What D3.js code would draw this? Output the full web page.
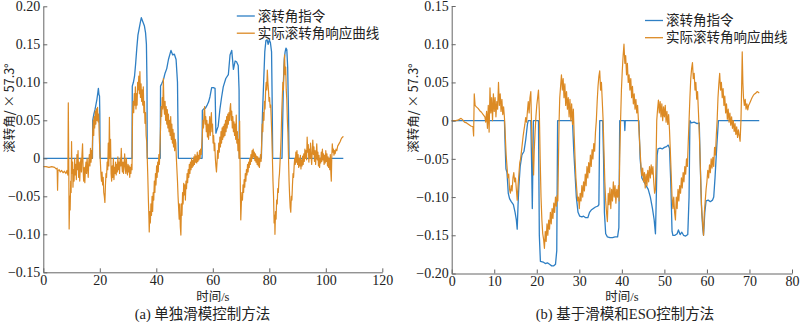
<!DOCTYPE html>
<html>
<head>
<meta charset="utf-8">
<script src="https://cdn.jsdelivr.net/npm/d3@7"></script>
<style>
  html, body { margin: 0; padding: 0; background: #fff; }
  svg { display: block; }
  .tick text { font-family: "Liberation Serif", "Times New Roman", serif; font-size: 14px; fill: #222; }
  .axis path, .axis line { stroke: #666; stroke-width: 1; }
  .ttl { font-family: "Liberation Serif", "Noto Sans CJK SC", serif; fill: #222; }
  .ylab { font-family: "Noto Sans CJK SC", "Noto Sans", sans-serif; fill: #222; }
</style>
</head>
<body>
<svg id="fig" width="800" height="322"></svg>
<script>
// ---- shared labels ----
const legendLabels = ["滚转角指令", "实际滚转角响应曲线"];
const yAxisLabel = "滚转角/ × 57.3°";
const xAxisLabel = "时间/s";

// ---- panel (a): sliding-mode control only ----
const captionA = "(a) 单独滑模控制方法";
const xTicksA = [0, 20, 40, 60, 80, 100, 120];
const yTicksA = [-0.15, -0.10, -0.05, 0, 0.05, 0.10, 0.15, 0.20];
const yTickLabelsA = ["−0.15", "−0.10", "−0.05", "0", "0.05", "0.10", "0.15", "0.20"];

// roll command, [time s, roll]
const commandA = [[0,0],[17.4,0],[17.5,0.05],[17.9,0.058],[18.3,0.064],[18.7,0.072],[19.0,0.078],[19.3,0.086],[19.5,0.092],[19.7,0.084],[19.9,0.082],[20.0,0.06],[20.1,0],
[31.4,0],[31.5,0.095],[31.9,0.1],[32.3,0.108],[32.7,0.125],[33.1,0.145],[33.5,0.162],[33.9,0.17],[34.3,0.178],[34.7,0.185],[35.0,0.182],[35.4,0.178],[35.8,0.174],[36.2,0.165],[36.5,0.15],[36.7,0.1],[36.8,0],
[41.4,0],[41.5,0.095],[41.9,0.098],[42.5,0.103],[43.1,0.112],[43.7,0.118],[44.3,0.13],[44.9,0.138],[45.2,0.142],[45.8,0.136],[46.4,0.137],[47.0,0.13],[47.5,0.1],[47.8,0],
[56.2,0],[56.3,0.063],[56.8,0.065],[57.4,0.066],[58.0,0.07],[58.5,0.074],[59.0,0.081],[59.6,0.093],[60.2,0.093],[60.8,0.092],[61.1,0.033],[61.5,0.038],[61.9,0.042],[62.5,0.064],[63.1,0.08],[63.7,0.094],[64.6,0.105],[65.5,0.11],[66.1,0.136],[66.7,0.142],[67.3,0.117],[67.9,0.128],[68.4,0.127],[69.0,0.122],[69.3,0.09],[69.4,0],
[77.2,0],[77.3,0.02],[77.6,0.06],[78.0,0.1],[78.4,0.14],[78.8,0.155],[79.2,0.156],[79.6,0.15],[80.0,0.156],[80.4,0.152],[80.8,0.14],[81.0,0.08],[81.2,0],
[84.5,0],[84.7,0.04],[85.0,0.1],[85.3,0.13],[85.6,0.14],[85.9,0.145],[86.2,0.143],[86.5,0.12],[86.8,0.06],[87.0,0],[106.2,0]];

// measured roll response, [time s, roll]
const responseA = [[0,-0.011],[1,-0.011],[2,-0.012],[3,-0.011],[4,-0.012],[4.6,-0.014],[4.9,-0.013],[5.05,-0.042],[5.2,-0.016],[5.6,-0.015],[6,-0.018],[6.5,-0.016],[7,-0.019],[7.5,-0.017],[8,-0.02],[8.4,-0.016],[8.7,-0.022],
[8.85,0.073],[9.0,0.0],[9.15,-0.093],[9.35,-0.05],[9.5,-0.068],[9.7,-0.03],[9.85,-0.045],[10.0,0.022],[10.15,-0.02],[10.35,-0.005],[10.5,-0.038],[10.7,-0.015],[10.9,-0.03],[11.1,0.0],[11.3,-0.022],[11.5,-0.008],[11.7,-0.028],[11.9,0.005],[12.1,-0.015],[12.3,0.01],[12.5,-0.025],[12.7,-0.005],[12.9,-0.03],[13.1,-0.01],[13.3,0.0],[13.5,-0.018],[13.7,0.005],[13.9,0.019],[14.1,-0.015],[14.3,-0.03],[14.5,-0.012],[14.7,-0.032],[14.9,-0.015],[15.1,-0.005],[15.3,-0.02],[15.5,0.0],[15.7,-0.012],[15.9,-0.025],[16.1,-0.005],[16.3,0.005],[16.5,-0.01],[16.7,0.013],[16.9,-0.005],[17.1,0.01],[17.3,0.0],
[17.5,0.035],[17.7,0.05],[17.85,0.03],[18.0,0.055],[18.2,0.04],[18.4,0.062],[18.6,0.045],[18.8,0.065],[19.0,0.05],[19.2,0.067],[19.4,0.048],[19.6,0.058],[19.8,0.03],[20.0,0.01],[20.2,-0.005],[20.4,-0.02],[20.6,-0.03],[20.8,-0.018],[21.0,-0.035],[21.2,-0.025],[21.4,-0.045],[21.6,-0.05],[21.8,-0.058],[22.0,-0.035],[22.2,-0.02],[22.4,-0.025],[22.6,-0.005],[22.8,-0.015],[23.0,0.02],[23.2,-0.01],[23.4,0.054],[23.6,0.0],[23.8,0.025],[24.0,-0.02],[24.2,-0.03],[24.4,-0.01],[24.6,-0.025],[24.8,0.0],[25.0,-0.028],[25.2,-0.012],[25.4,-0.02],[25.6,-0.005],[25.8,-0.022],[26.0,-0.008],[26.2,-0.018],[26.4,0.002],[26.6,-0.015],[26.8,-0.005],[27.0,-0.02],[27.2,0.0],[27.4,-0.01],[27.6,0.013],[27.8,-0.008],[28.0,-0.018],[28.2,-0.005],[28.4,-0.02],[28.6,-0.008],[28.8,0.006],[29.0,-0.012],[29.2,-0.02],[29.4,0.0],[29.6,-0.015],[29.8,-0.022],[30.0,-0.008],[30.2,-0.018],[30.4,-0.01],[30.6,-0.025],[30.8,-0.012],[31.0,-0.02],[31.2,-0.008],[31.4,-0.015],
[31.6,0.06],[31.8,0.075],[32.0,0.06],[32.2,0.085],[32.4,0.07],[32.6,0.094],[32.8,0.065],[33.0,0.085],[33.2,0.07],[33.4,0.1],[33.6,0.09],[33.8,0.108],[34.0,0.085],[34.2,0.114],[34.4,0.08],[34.6,0.098],[34.8,0.075],[35.0,0.09],[35.2,0.07],[35.4,0.094],[35.6,0.06],[35.8,0.075],[36.0,0.046],[36.2,0.06],[36.4,0.03],[36.6,0.022],[36.8,0.0],[37.0,-0.025],[37.2,-0.055],[37.4,-0.08],[37.5,-0.097],[37.7,-0.07],[37.9,-0.085],[38.1,-0.06],[38.3,-0.075],[38.5,-0.05],[38.7,-0.07],[38.9,-0.045],[39.1,-0.055],[39.3,-0.03],[39.5,-0.045],[39.7,-0.02],[39.9,-0.035],[40.1,-0.01],[40.3,-0.025],[40.5,-0.005],[40.7,-0.018],[40.9,0.005],[41.1,-0.008],[41.3,0.015],
[41.5,0.04],[41.7,0.068],[41.9,0.055],[42.1,0.08],[42.3,0.065],[42.5,0.105],[42.7,0.07],[42.9,0.058],[43.1,0.075],[43.3,0.05],[43.5,0.068],[43.7,0.045],[43.9,0.064],[44.1,0.04],[44.3,0.058],[44.5,0.035],[44.7,0.05],[44.9,0.03],[45.1,0.055],[45.3,0.025],[45.5,0.045],[45.7,0.02],[45.9,0.038],[46.1,0.015],[46.3,0.033],[46.5,0.01],[46.7,0.025],[46.9,0.02],[47.1,0.0],[47.3,-0.015],[47.5,-0.03],[47.7,-0.05],[47.9,-0.065],[48.1,-0.08],[48.3,-0.06],[48.5,-0.09],[48.7,-0.101],[48.9,-0.06],[49.1,-0.075],[49.3,-0.045],[49.5,-0.06],[49.7,-0.033],[49.9,-0.048],[50.1,-0.035],[50.3,-0.055],[50.5,-0.03],[50.7,-0.04],[50.9,-0.02],[51.1,-0.032],[51.3,-0.015],[51.5,-0.025],[51.7,-0.008],[51.9,-0.02],[52.1,-0.005],[52.3,-0.015],[52.5,0.0],[52.7,-0.012],[52.9,-0.003],[53.1,-0.01],[53.3,0.002],[53.5,-0.008],[53.7,0.005],[53.9,-0.005],[54.1,0.003],[54.3,-0.006],[54.5,0.008],[54.7,-0.004],[54.9,0.004],[55.1,-0.002],[55.3,0.01],[55.5,0.0],[55.7,0.012],[55.9,0.005],[56.1,0.018],
[56.3,0.03],[56.5,0.05],[56.7,0.04],[56.9,0.06],[57.1,0.068],[57.3,0.045],[57.5,0.055],[57.7,0.035],[57.9,0.05],[58.1,0.028],[58.3,0.045],[58.5,0.025],[58.7,0.04],[58.9,0.055],[59.1,0.03],[59.3,0.048],[59.5,0.06],[59.7,0.035],[59.9,0.045],[60.1,0.02],[60.3,0.03],[60.5,0.01],[60.7,0.02],[60.9,0.0],[61.1,-0.01],[61.3,-0.018],[61.5,-0.005],[61.7,0.01],[61.9,0.0],[62.1,0.02],[62.3,0.008],[62.5,0.028],[62.7,0.015],[62.9,0.035],[63.1,0.02],[63.3,0.04],[63.5,0.025],[63.7,0.042],[63.9,0.028],[64.1,0.045],[64.3,0.03],[64.5,0.05],[64.7,0.035],[64.9,0.055],[65.1,0.04],[65.3,0.058],[65.5,0.045],[65.7,0.06],[65.9,0.05],[66.1,0.065],[66.3,0.072],[66.5,0.05],[66.7,0.062],[66.9,0.04],[67.1,0.055],[67.3,0.035],[67.5,0.048],[67.7,0.03],[67.9,0.045],[68.1,0.025],[68.3,0.057],[68.5,0.02],[68.7,0.035],[68.9,0.01],[69.1,0.025],[69.3,0.0],[69.5,0.049],[69.6,0.01],[69.75,-0.04],[69.9,-0.081],[70.1,-0.06],[70.3,-0.045],[70.5,-0.055],[70.7,-0.035],[70.9,-0.045],[71.1,-0.028],[71.3,-0.038],[71.5,-0.02],[71.7,-0.03],[71.9,-0.015],[72.1,-0.022],[72.3,-0.008],[72.5,-0.018],[72.7,-0.005],[72.9,-0.012],[73.1,0.0],[73.3,-0.008],[73.5,0.005],[73.7,-0.004],[73.9,0.01],[74.1,0.0],[74.3,0.012],[74.5,0.002],[74.7,0.008],[74.9,-0.003],[75.1,0.006],[75.3,-0.005],[75.5,0.003],[75.7,-0.008],[75.9,0.002],[76.1,-0.01],[76.3,0.0],[76.5,-0.012],[76.7,-0.002],[76.9,0.005],[77.1,-0.004],
[77.3,0.02],[77.5,0.045],[77.7,0.035],[77.9,0.06],[78.1,0.05],[78.3,0.075],[78.5,0.065],[78.7,0.09],[78.9,0.1],[79.1,0.09],[79.3,0.116],[79.5,0.1],[79.7,0.09],[79.9,0.075],[80.1,0.08],[80.3,0.067],[80.5,0.07],[80.7,0.05],[80.9,0.03],[81.1,0.0],[81.3,-0.03],[81.5,-0.05],[81.7,-0.085],[81.9,-0.075],[82.0,-0.1],[82.2,-0.07],[82.4,-0.08],[82.6,-0.055],[82.8,-0.06],[83.0,-0.04],[83.2,-0.045],[83.4,-0.028],[83.6,-0.02],[83.8,-0.005],[84.0,0.01],[84.2,0.03],[84.4,0.06],[84.6,0.08],[84.8,0.1],[85.0,0.09],[85.2,0.12],[85.4,0.136],[85.6,0.11],[85.8,0.12],[86.0,0.09],[86.2,0.077],[86.4,0.05],[86.6,0.033],[86.8,0.0],[87.0,-0.03],[87.2,-0.05],[87.4,-0.065],[87.6,-0.071],[87.8,-0.05],[88.0,-0.055],[88.2,-0.035],[88.4,-0.02],[88.6,-0.025],[88.8,-0.01],[89.0,0.0],[89.2,-0.008],[89.4,0.008],[89.6,-0.005],[89.8,0.01],[90.0,-0.008],[90.2,0.005],[90.4,-0.012],[90.6,0.0],[90.8,-0.01],[91.0,0.004],[91.2,-0.014],[91.4,-0.002],[91.6,-0.01],[91.8,0.003],[92.0,-0.008],[92.2,0.006],[92.4,-0.004],[92.6,0.012],[92.8,0.0],[93.0,0.01],[93.2,-0.002],[93.4,0.028],[93.6,0.008],[93.8,0.018],[94.0,-0.005],[94.2,0.012],[94.4,0.0],[94.6,0.02],[94.8,0.002],[95.0,-0.008],[95.2,0.01],[95.4,0.024],[95.6,0.005],[95.8,0.015],[96.0,-0.004],[96.2,0.01],[96.4,-0.008],[96.6,0.005],[96.8,0.019],[97.0,-0.002],[97.2,0.008],[97.4,-0.01],[97.6,0.004],[97.8,-0.012],[98.0,0.0],[98.2,-0.006],[98.4,0.008],[98.6,-0.004],[98.8,0.012],[99.0,-0.002],[99.2,0.006],[99.4,-0.008],[99.6,0.004],[99.8,-0.006],[100.0,0.01],[100.2,-0.004],[100.4,0.006],[100.6,-0.01],[100.8,0.002],[101.0,-0.012],[101.2,0.0],[101.4,-0.015],[101.6,0.005],[101.8,-0.02],[101.95,-0.03],[102.1,0.0],[102.3,0.019],[102.5,0.008],[102.7,0.012],[102.9,0.004],[103.1,0.01],[103.3,0.006],[103.6,0.012],[103.9,0.01],[104.2,0.016],[104.5,0.018],[104.8,0.02],[105.1,0.022],[105.4,0.025],[105.7,0.027],[106.0,0.028],[106.2,0.029]];

// ---- panel (b): sliding mode with ESO ----
const captionB = "(b) 基于滑模和ESO控制方法";
const xTicksB = [0, 10, 20, 30, 40, 50, 60, 70, 80];
const yTicksB = [-0.20, -0.15, -0.10, -0.05, 0, 0.05, 0.10, 0.15];
const yTickLabelsB = ["−0.20", "−0.15", "−0.10", "−0.05", "0", "0.05", "0.10", "0.15"];

const commandB = [[0,0],[12.4,0],[12.55,-0.03],[12.75,-0.063],[13.0,-0.068],[13.3,-0.095],[13.6,-0.102],[14.0,-0.106],[14.5,-0.11],[14.9,-0.12],[15.2,-0.13],[15.4,-0.142],[15.6,-0.11],[15.8,-0.085],[16.1,-0.06],[16.5,-0.045],[17.0,-0.04],[17.4,-0.025],[17.8,-0.005],[18.0,0],
[18.6,0],[18.8,-0.06],[18.95,-0.115],[19.1,-0.05],[19.2,0],
[20.4,0],[20.6,-0.15],[20.85,-0.184],[21.5,-0.185],[22.0,-0.187],[22.5,-0.186],[23.0,-0.188],[23.5,-0.19],[24.0,-0.19],[24.4,-0.188],[24.7,-0.17],[24.9,0],
[28.4,0],[28.7,-0.04],[29.0,-0.07],[29.3,-0.1],[29.7,-0.12],[30.1,-0.125],[30.6,-0.126],[31.0,-0.125],[31.5,-0.127],[32.0,-0.127],[32.4,-0.12],[32.8,-0.117],[33.3,-0.115],[33.8,-0.113],[34.3,-0.112],[34.6,-0.11],[34.8,0],
[35.5,0],[35.7,-0.05],[35.9,-0.12],[36.2,-0.148],[36.6,-0.152],[37.2,-0.153],[37.8,-0.153],[38.4,-0.152],[39.0,-0.152],[39.3,-0.14],[39.5,0],
[40.6,0],[40.7,-0.013],[40.8,0],
[44.0,0],[44.3,-0.05],[44.7,-0.075],[45.2,-0.08],[45.7,-0.085],[46.2,-0.09],[46.7,-0.1],[47.2,-0.115],[47.6,-0.13],[47.9,-0.148],[48.1,-0.1],[48.3,-0.045],[48.5,-0.037],[49.0,-0.036],[49.5,-0.037],[50.0,-0.035],[50.5,-0.034],[50.9,-0.032],[51.2,-0.036],[51.5,-0.08],[51.8,-0.145],[52.0,-0.15],[52.5,-0.15],[53.0,-0.148],[53.3,-0.143],[53.7,-0.149],[54.1,-0.146],[54.5,-0.15],[55.0,-0.151],[55.5,-0.149],[55.8,-0.1],[56.0,0],
[56.3,-0.003],[57.0,-0.002],[57.7,-0.004],[58.2,-0.003],[58.4,-0.05],[58.7,-0.11],[59.0,-0.14],[59.2,-0.15],[59.5,-0.12],[59.8,-0.105],[60.3,-0.104],[60.8,-0.106],[61.3,-0.104],[61.6,-0.1],[61.9,-0.075],[62.3,-0.035],[62.7,0],[72.3,0]];

const responseB = [[0,0],[1.0,0.0],[1.6,0.001],[2.2,0.003],[2.6,0.001],[3.0,-0.002],[3.5,-0.003],[4.0,-0.005],[4.5,-0.007],[5.0,-0.008],[5.15,-0.02],[5.3,0.035],[5.5,0.02],[5.8,0.018],[6.2,0.016],[6.6,0.013],[7.0,0.011],[7.4,0.008],[7.8,0.005],[8.0,-0.002],[8.2,0.012],[8.4,-0.01],[8.6,0.02],[8.8,-0.015],[9.0,0.043],[9.2,0.01],[9.4,0.03],[9.6,0.0],[9.8,0.035],[10.0,0.012],[10.2,0.03],[10.4,0.005],[10.6,0.025],[10.8,0.015],[11.0,0.05],[11.2,0.02],[11.4,0.035],[11.6,0.012],[11.8,0.028],[12.0,0.008],[12.2,0.018],[12.4,0.004],
[12.6,-0.02],[12.8,-0.045],[13.0,-0.06],[13.2,-0.075],[13.4,-0.07],[13.6,-0.09],[13.8,-0.095],[14.0,-0.085],[14.2,-0.092],[14.4,-0.075],[14.6,-0.068],[14.8,-0.08],[15.0,-0.075],[15.2,-0.09],[15.4,-0.104],[15.6,-0.085],[15.8,-0.07],[16.0,-0.055],[16.2,-0.05],[16.4,-0.04],[16.6,-0.03],[16.8,-0.02],[17.0,-0.012],[17.2,-0.005],[17.4,0.004],[17.6,-0.002],[17.8,0.012],[18.0,0.025],[18.2,0.01],[18.4,0.03],[18.6,0.038],[18.75,0.0],[18.9,-0.03],[19.1,-0.05],[19.25,-0.071],[19.4,-0.04],[19.6,-0.015],[19.8,0.005],[20.0,0.02],[20.2,0.03],[20.4,0.04],[20.6,0.012],
[20.8,-0.05],[21.0,-0.1],[21.2,-0.13],[21.4,-0.148],[21.6,-0.155],[21.8,-0.167],[22.0,-0.145],[22.2,-0.158],[22.4,-0.135],[22.6,-0.15],[22.8,-0.13],[23.0,-0.142],[23.2,-0.12],[23.4,-0.135],[23.6,-0.115],[23.8,-0.128],[24.0,-0.108],[24.2,-0.12],[24.4,-0.1],[24.6,-0.112],[24.8,-0.098],[24.95,-0.105],[25.1,-0.05],[25.25,0.0],[25.4,0.03],[25.6,0.045],[25.8,0.06],[26.0,0.04],[26.2,0.055],[26.4,0.03],[26.6,0.048],[26.8,0.02],[27.0,0.038],[27.2,0.015],[27.4,0.03],[27.6,0.005],[27.8,0.028],[28.0,0.0],[28.2,0.022],[28.4,-0.005],[28.6,0.015],
[28.8,-0.02],[29.0,-0.05],[29.2,-0.075],[29.4,-0.09],[29.6,-0.105],[29.8,-0.1],[30.0,-0.115],[30.2,-0.095],[30.4,-0.105],[30.6,-0.085],[30.8,-0.1],[31.0,-0.08],[31.2,-0.092],[31.4,-0.07],[31.6,-0.085],[31.8,-0.06],[32.0,-0.075],[32.2,-0.055],[32.4,-0.068],[32.6,-0.045],[32.8,-0.06],[33.0,-0.038],[33.2,-0.05],[33.4,-0.03],[33.6,-0.04],[33.8,-0.015],[34.0,0.0],[34.2,0.025],[34.4,0.045],[34.6,0.058],[34.8,0.065],[35.0,0.04],[35.2,0.05],[35.4,0.025],[35.6,0.0],
[35.8,-0.04],[36.0,-0.08],[36.2,-0.105],[36.4,-0.12],[36.6,-0.132],[36.8,-0.095],[37.0,-0.11],[37.2,-0.088],[37.4,-0.115],[37.6,-0.09],[37.8,-0.105],[38.0,-0.08],[38.2,-0.1],[38.4,-0.085],[38.6,-0.108],[38.8,-0.09],[39.0,-0.1],[39.2,-0.085],[39.35,-0.105],[39.5,-0.05],[39.7,0.0],[39.9,0.04],[40.1,0.065],[40.3,0.085],[40.5,0.1],[40.7,0.075],[40.9,0.085],[41.1,0.06],[41.3,0.075],[41.5,0.05],[41.7,0.06],[41.9,0.04],[42.1,0.055],[42.3,0.03],[42.5,0.045],[42.7,0.022],[42.9,0.035],[43.1,0.015],[43.3,0.028],[43.5,0.01],[43.7,0.02],[43.9,0.0],
[44.1,-0.02],[44.3,-0.04],[44.5,-0.06],[44.7,-0.072],[44.9,-0.062],[45.1,-0.08],[45.3,-0.068],[45.5,-0.088],[45.7,-0.07],[45.9,-0.085],[46.1,-0.065],[46.3,-0.08],[46.5,-0.06],[46.7,-0.075],[46.9,-0.058],[47.1,-0.07],[47.3,-0.06],[47.5,-0.08],[47.7,-0.095],[47.9,-0.09],[48.05,-0.05],[48.2,0.0],[48.4,0.015],[48.6,0.027],[48.8,0.01],[49.0,0.025],[49.2,0.005],[49.4,0.022],[49.6,0.0],[49.8,0.018],[50.0,0.005],[50.2,0.02],[50.4,-0.002],[50.6,0.012],[50.8,-0.005],[51.0,0.008],[51.2,-0.012],
[51.4,-0.04],[51.6,-0.07],[51.8,-0.1],[52.0,-0.115],[52.2,-0.1],[52.4,-0.12],[52.6,-0.13],[52.8,-0.1],[53.0,-0.115],[53.2,-0.09],[53.4,-0.105],[53.6,-0.085],[53.8,-0.095],[54.0,-0.075],[54.2,-0.088],[54.4,-0.068],[54.6,-0.08],[54.8,-0.06],[55.0,-0.07],[55.2,-0.05],[55.4,-0.06],[55.6,-0.03],[55.8,0.0],[56.0,0.03],[56.2,0.055],[56.4,0.068],[56.6,0.076],[56.8,0.055],[57.0,0.062],[57.2,0.04],[57.4,0.05],[57.6,0.028],[57.8,0.038],[58.0,0.012],
[58.2,-0.015],[58.4,-0.05],[58.6,-0.09],[58.8,-0.12],[59.0,-0.135],[59.2,-0.15],[59.4,-0.12],[59.6,-0.105],[59.8,-0.09],[60.0,-0.08],[60.2,-0.065],[60.4,-0.075],[60.6,-0.058],[60.8,-0.068],[61.0,-0.05],[61.2,-0.062],[61.4,-0.048],[61.6,-0.06],[61.8,-0.035],[62.0,-0.045],[62.2,-0.02],[62.4,0.0],[62.6,0.03],[62.8,0.048],[63.0,0.062],[63.2,0.04],[63.4,0.05],[63.6,0.03],[63.8,0.042],[64.0,0.02],[64.2,0.032],[64.4,0.01],[64.6,0.022],[64.8,0.002],[65.0,0.015],[65.2,-0.002],[65.4,0.01],[65.6,-0.006],[65.8,0.005],[66.0,-0.01],[66.2,0.0],[66.4,-0.014],[66.6,-0.004],[66.8,-0.018],[67.0,-0.008],[67.2,-0.022],[67.4,-0.012],[67.6,-0.02],[67.8,-0.027],[68.0,0.0],[68.15,0.04],[68.3,0.09],[68.45,0.05],[68.6,0.03],[68.8,0.02],[69.0,0.028],[69.2,0.015],[69.4,0.022],[69.6,0.014],[69.8,0.02],[70.0,0.022],[70.3,0.026],[70.6,0.03],[70.9,0.033],[71.2,0.035],[71.5,0.036],[71.8,0.038],[72.1,0.037],[72.3,0.036]];

// ---- drawing ----
const COLOR_CMD = "#2e7fc4";
const COLOR_RESP = "#dc8a24";
const svg = d3.select("#fig");

function drawPanel(p) {
  const x = d3.scaleLinear().domain(p.xDomain).range(p.xRange);
  const y = d3.scaleLinear().domain(p.yDomain).range(p.yRange);
  const g = svg.append("g");

  const line = d3.line().x(d => x(d[0])).y(d => y(d[1]));
  g.append("path").datum(p.command).attr("d", line)
    .attr("fill", "none").attr("stroke", COLOR_CMD).attr("stroke-width", 1.3).attr("stroke-linejoin", "round");
  g.append("path").datum(p.response).attr("d", line)
    .attr("fill", "none").attr("stroke", COLOR_RESP).attr("stroke-width", 1.2).attr("stroke-linejoin", "round");

  g.append("g").attr("class", "axis")
    .attr("transform", `translate(0,${p.yRange[0]})`)
    .call(d3.axisBottom(x).tickValues(p.xTicks).tickFormat(d3.format("d"))
      .tickSizeInner(-4).tickSizeOuter(0).tickPadding(3));
  g.append("g").attr("class", "axis")
    .attr("transform", `translate(${p.xRange[0]},0)`)
    .call(d3.axisLeft(y).tickValues(p.yTicks).tickFormat((d, i) => p.yTickLabels[i])
      .tickSizeInner(-4).tickSizeOuter(0).tickPadding(3));

  // axis titles and caption
  const cx = (p.xRange[0] + p.xRange[1]) / 2;
  g.append("text").attr("class", "ttl").attr("x", cx).attr("y", 300.5)
    .attr("text-anchor", "middle").attr("font-size", 12.5).text(xAxisLabel);
  g.append("text").attr("class", "ttl").attr("x", p.captionX).attr("y", 318.5)
    .attr("text-anchor", "middle").attr("font-size", 14.5).text(p.caption);
  g.append("text").attr("class", "ylab")
    .attr("transform", `translate(${p.yLabelX},108) rotate(-90)`)
    .attr("text-anchor", "middle").attr("dominant-baseline", "central")
    .attr("font-size", 12.5).text(yAxisLabel);

  // legend
  const leg = g.append("g").attr("transform", `translate(${p.legendX},${p.legendY})`);
  [COLOR_CMD, COLOR_RESP].forEach((c, i) => {
    const ly = i * 17.2;
    leg.append("line").attr("x1", 0).attr("x2", 18).attr("y1", ly).attr("y2", ly)
      .attr("stroke", c).attr("stroke-width", 1.3);
    leg.append("text").attr("class", "ttl").attr("x", 21).attr("y", ly)
      .attr("dominant-baseline", "central").attr("font-size", 13.5).text(legendLabels[i]);
  });
}

drawPanel({
  xDomain: [0, 120], xRange: [43.3, 382.3],
  yDomain: [-0.15, 0.20], yRange: [272.3, 6.3],
  xTicks: xTicksA, yTicks: yTicksA, yTickLabels: yTickLabelsA,
  command: commandA, response: responseA,
  caption: captionA, captionX: 202.5, yLabelX: 8.5,
  legendX: 236.8, legendY: 16
});
drawPanel({
  xDomain: [0, 80], xRange: [451.7, 792],
  yDomain: [-0.20, 0.15], yRange: [273.5, 6],
  xTicks: xTicksB, yTicks: yTicksB, yTickLabels: yTickLabelsB,
  command: commandB, response: responseB,
  caption: captionB, captionX: 625, yLabelX: 412,
  legendX: 645, legendY: 20.5
});
</script>
</body>
</html>
